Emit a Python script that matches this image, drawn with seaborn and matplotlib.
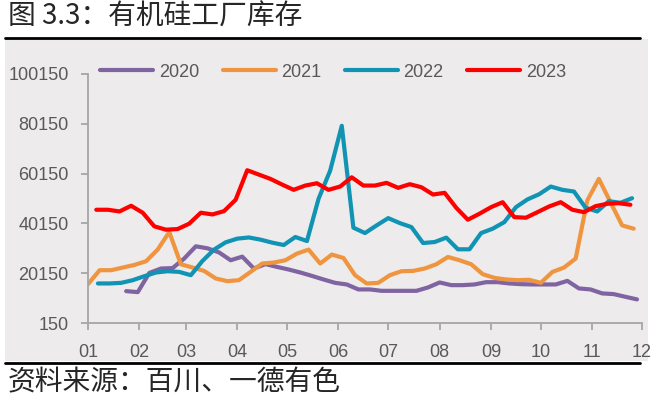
import pandas as pd
import seaborn as sns
import matplotlib.pyplot as plt
from matplotlib.patches import Rectangle
from matplotlib.lines import Line2D

# weekly organic silicon plant inventory (tons)
start_2020 = '2020-01-24'
inv_2020 = [12950, 12550, 20270, 22030, 22200, 26030, 30950, 30150, 28500, 25350,
            26800, 22030, 23800, 22670, 21630, 20430, 19070, 17630, 16270, 15630,
            13630, 13630, 13070, 13070, 13070, 13070, 14430, 16430, 15350, 15350,
            15630, 16550, 16550, 16030, 15750, 15630, 15630, 15630, 17070, 14030,
            13630, 12030, 11750, 10670, 9630]

start_2021 = '2021-01-01'
inv_2021 = [15750, 21350, 21350, 22430, 23470, 24950, 29630, 36670, 23750, 22430,
            21070, 18030, 16950, 17350, 20670, 24030, 24430, 25350, 28030, 29630,
            24030, 27630, 26270, 19350, 16030, 16270, 19350, 20950, 21070, 22030,
            23750, 26670, 25350, 23750, 19750, 18270, 17630, 17350, 17500, 16270,
            20670, 22430, 26030, 49350, 58030, 48670, 39350, 38030]

start_2022 = '2022-01-07'
inv_2022 = [16030, 16030, 16270, 17350, 18950, 20430, 20950, 20670, 19350, 25070,
            29630, 32550, 34030, 34500, 33630, 32430, 31470, 34690, 33070, 50030,
            61350, 79350, 38430, 36270, 39350, 42270, 40270, 38670, 32270, 32670,
            34430, 29750, 29750, 36270, 38030, 40670, 46670, 49800, 51870, 54950,
            53630, 52950, 46430, 44950, 49070, 48430, 50270]

start_2023 = '2023-01-06'
inv_2023 = [45630, 45630, 44950, 47230, 44430, 38950, 37630, 37870, 40030, 44430,
            43750, 45070, 49630, 61500, 59750, 58020, 55750, 53630, 55350, 56270,
            53630, 54950, 58670, 55350, 55350, 56430, 54430, 55900, 54670, 51750,
            52430, 46430, 41630, 44030, 46670, 48670, 42670, 42430, 44670, 46950,
            48670, 45630, 44670, 47070, 48030, 48270, 47630]

years = ['2020', '2021', '2022', '2023']
month_labels = ['01', '02', '03', '04', '05', '06', '07', '08', '09', '10', '11', '12']
y_ticks = [150, 20150, 40150, 60150, 80150, 100150]
colors = {'2020': '#8064A2', '2021': '#F0953F', '2022': '#1193B3', '2023': '#FF0000'}

# build one long table, x = day of year so every year shares the axis
frames = []
for yr, start, vals in zip(years, [start_2020, start_2021, start_2022, start_2023],
                           [inv_2020, inv_2021, inv_2022, inv_2023]):
    dates = pd.date_range(start, periods=len(vals), freq='7D')
    frames.append(pd.DataFrame({'doy': dates.dayofyear, 'inv': vals, 'year': yr}))
df = pd.concat(frames, ignore_index=True)

month_starts = pd.date_range('2023-01-01', periods=12, freq='MS').dayofyear

sns.set_style('white')
plt.rcParams['font.family'] = ['Liberation Sans', 'Noto Sans CJK SC', 'DejaVu Sans']

W, H = 655, 396
fig = plt.figure(figsize=(W / 100, H / 100), dpi=100)
fig.patch.set_facecolor('white')

# grey panel + black rules, in pixel terms of the original
fig.patches.append(Rectangle((5 / W, 1 - 361 / H), 643 / W, 322 / H,
                             transform=fig.transFigure, facecolor='#EDEBEC',
                             edgecolor='none', zorder=-5))
fig.lines.append(Line2D([5 / W, 640 / W], [1 - 37.5 / H] * 2, transform=fig.transFigure,
                        color='black', lw=2, zorder=-4))
fig.lines.append(Line2D([5 / W, 640 / W], [1 - 362.5 / H] * 2, transform=fig.transFigure,
                        color='black', lw=2, zorder=-4))

fig.text(8 / W, 1 - 17 / H, '图 3.3：有机硅工厂库存', fontsize=20,
         family=['Noto Sans CJK SC', 'DejaVu Sans'], va='center', ha='left')
fig.text(8 / W, 1 - 382 / H, '资料来源：百川、一德有色', fontsize=20,
         family=['Noto Sans CJK SC', 'DejaVu Sans'], va='center', ha='left')

ax = fig.add_axes([88 / W, 1 - 323 / H, 554 / W, 249 / H])
ax.patch.set_alpha(0)

sns.lineplot(data=df, x='doy', y='inv', hue='year', hue_order=years, palette=colors,
             estimator=None, linewidth=3, ax=ax)

ax.set_xlim(1, 335)
ax.set_ylim(150, 100150)
ax.set_xticks(month_starts)
ax.set_xticklabels(month_labels)
ax.set_yticks(y_ticks)
ax.set_yticklabels([str(v) for v in y_ticks])
ax.set_xlabel('')
ax.set_ylabel('')

for side in ['top', 'right']:
    ax.spines[side].set_visible(False)
for side in ['left', 'bottom']:
    ax.spines[side].set_color('#A6A6A6')
    ax.spines[side].set_linewidth(1.3)
ax.tick_params(axis='both', which='major', length=5, width=1.3, color='#A6A6A6',
               labelcolor='#595959', labelsize=13, direction='out')
ax.tick_params(axis='y', pad=9, left=True)
ax.tick_params(axis='x', pad=10, bottom=True)

handles, labels = ax.get_legend_handles_labels()
ax.legend(handles, labels, ncol=4, frameon=False, loc='center left',
          bbox_to_anchor=(0.022, 1.008), borderpad=0, borderaxespad=0,
          handlelength=2.95, handletextpad=0.3, columnspacing=1.3,
          fontsize=13, labelcolor='#595959')

fig.savefig('out.png', dpi=100)
